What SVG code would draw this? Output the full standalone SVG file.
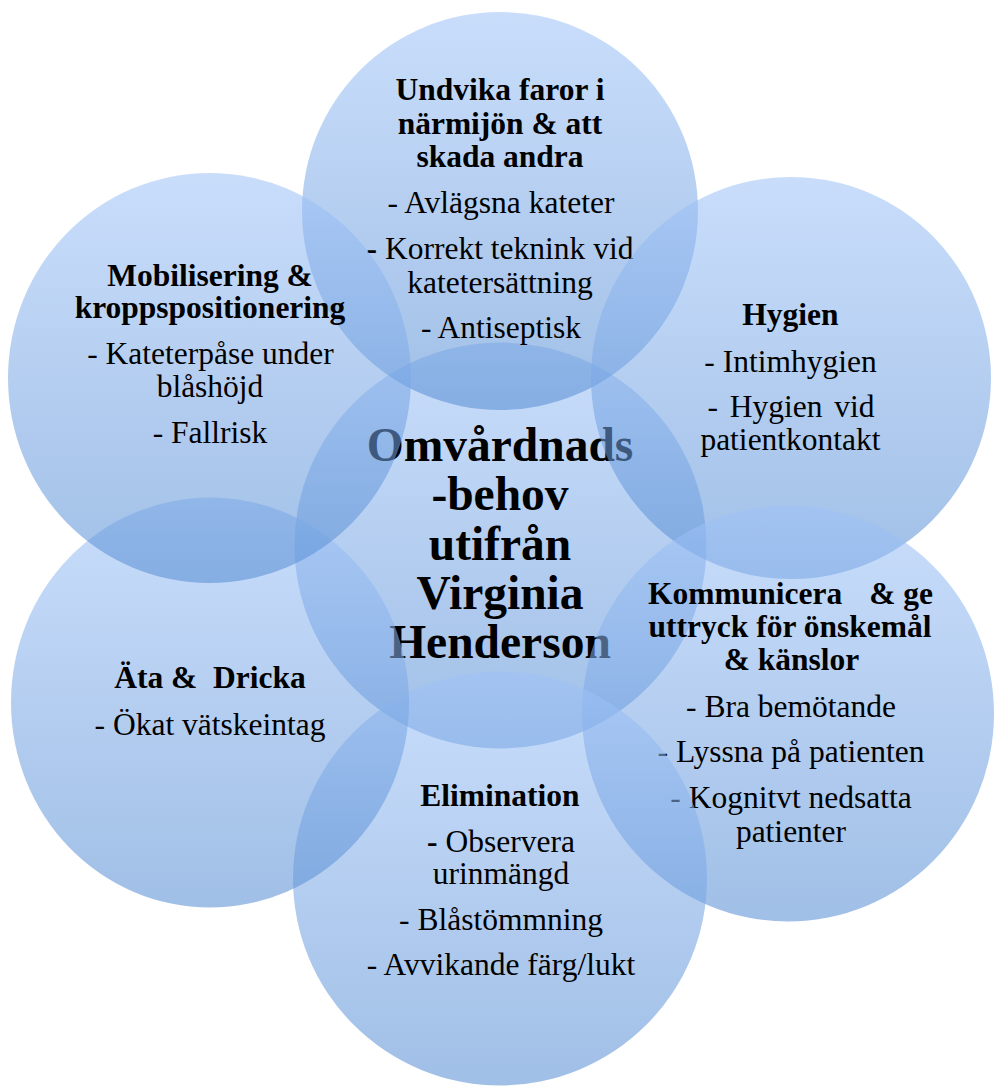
<svg xmlns="http://www.w3.org/2000/svg" width="994" height="1086" viewBox="0 0 994 1086">
<defs>
<linearGradient id="g" x1="0" y1="0" x2="0" y2="1">
<stop offset="0" stop-color="#9fc3f8"/>
<stop offset="1" stop-color="#568dd3"/>
</linearGradient>
<style>
.c{fill:url(#g);fill-opacity:0.56}
text{font-family:"Liberation Serif","Times New Roman",serif;font-size:31.5px;fill:#000;text-anchor:middle}
.b{font-weight:bold}
.big{font-size:47.5px;font-weight:bold}
</style>
</defs>
<rect width="994" height="1086" fill="#fff"/>
<g id="center">
<ellipse class="c" cx="500.5" cy="545.5" rx="206" ry="203"/>
<text class="big" x="500" y="461">Omvårdnads</text>
<text class="big" x="500" y="510">-behov</text>
<text class="big" x="500" y="560">utifrån</text>
<text class="big" x="500" y="609">Virginia</text>
<text class="big" x="500" y="658">Henderson</text>
</g>
<g id="top">
<ellipse class="c" cx="500" cy="211" rx="198" ry="199"/>
<text class="b" x="500" y="100">Undvika faror i</text>
<text class="b" x="500" y="134">närmijön &amp; att</text>
<text class="b" x="500" y="167">skada andra</text>
<text x="501" y="213">- Avlägsna kateter</text>
<text x="500" y="259"><tspan class="b">-</tspan> Korrekt teknink vid</text>
<text x="500" y="293">katetersättning</text>
<text x="501" y="338">- Antiseptisk</text>
</g>
<g id="hygien">
<ellipse class="c" cx="791" cy="378" rx="200" ry="201"/>
<text class="b" x="790.5" y="325">Hygien</text>
<text x="790.5" y="372">- Intimhygien</text>
<text x="791" y="417" word-spacing="4">- Hygien vid</text>
<text x="790.5" y="450">patientkontakt</text>
</g>
<g id="kommunicera">
<ellipse class="c" cx="788" cy="713.5" rx="206" ry="208"/>
<text class="b" x="790.5" y="604">Kommunicera<tspan dx="27">&amp; ge</tspan></text>
<text class="b" x="790" y="637">uttryck för önskemål</text>
<text class="b" x="791.5" y="670">&amp; känslor</text>
<text x="791" y="717">- Bra bemötande</text>
<text x="791" y="762">- Lyssna på patienten</text>
<text x="791" y="808">- Kognitvt nedsatta</text>
<text x="791" y="842">patienter</text>
</g>
<g id="elimination">
<ellipse class="c" cx="500" cy="878.5" rx="207" ry="207"/>
<text class="b" x="500" y="806">Elimination</text>
<text x="501" y="852"><tspan class="b">-</tspan> Observera</text>
<text x="501" y="884">urinmängd</text>
<text x="501" y="930">- Blåstömmning</text>
<text x="501" y="975">- Avvikande färg/lukt</text>
</g>
<g id="ata">
<ellipse class="c" cx="210" cy="702.5" rx="199" ry="205"/>
<text class="b" x="210" y="688" xml:space="preserve">Äta &amp;  Dricka</text>
<text x="210" y="735">- Ökat vätskeintag</text>
</g>
<g id="mobilisering">
<ellipse class="c" cx="209.5" cy="378" rx="201.5" ry="205"/>
<text class="b" x="210" y="286">Mobilisering &amp;</text>
<text class="b" x="210" y="318">kroppspositionering</text>
<text x="210.5" y="364">- Kateterpåse under</text>
<text x="210" y="397">blåshöjd</text>
<text x="210" y="443">- Fallrisk</text>
</g>
<g id="connectors"/>
</svg>
